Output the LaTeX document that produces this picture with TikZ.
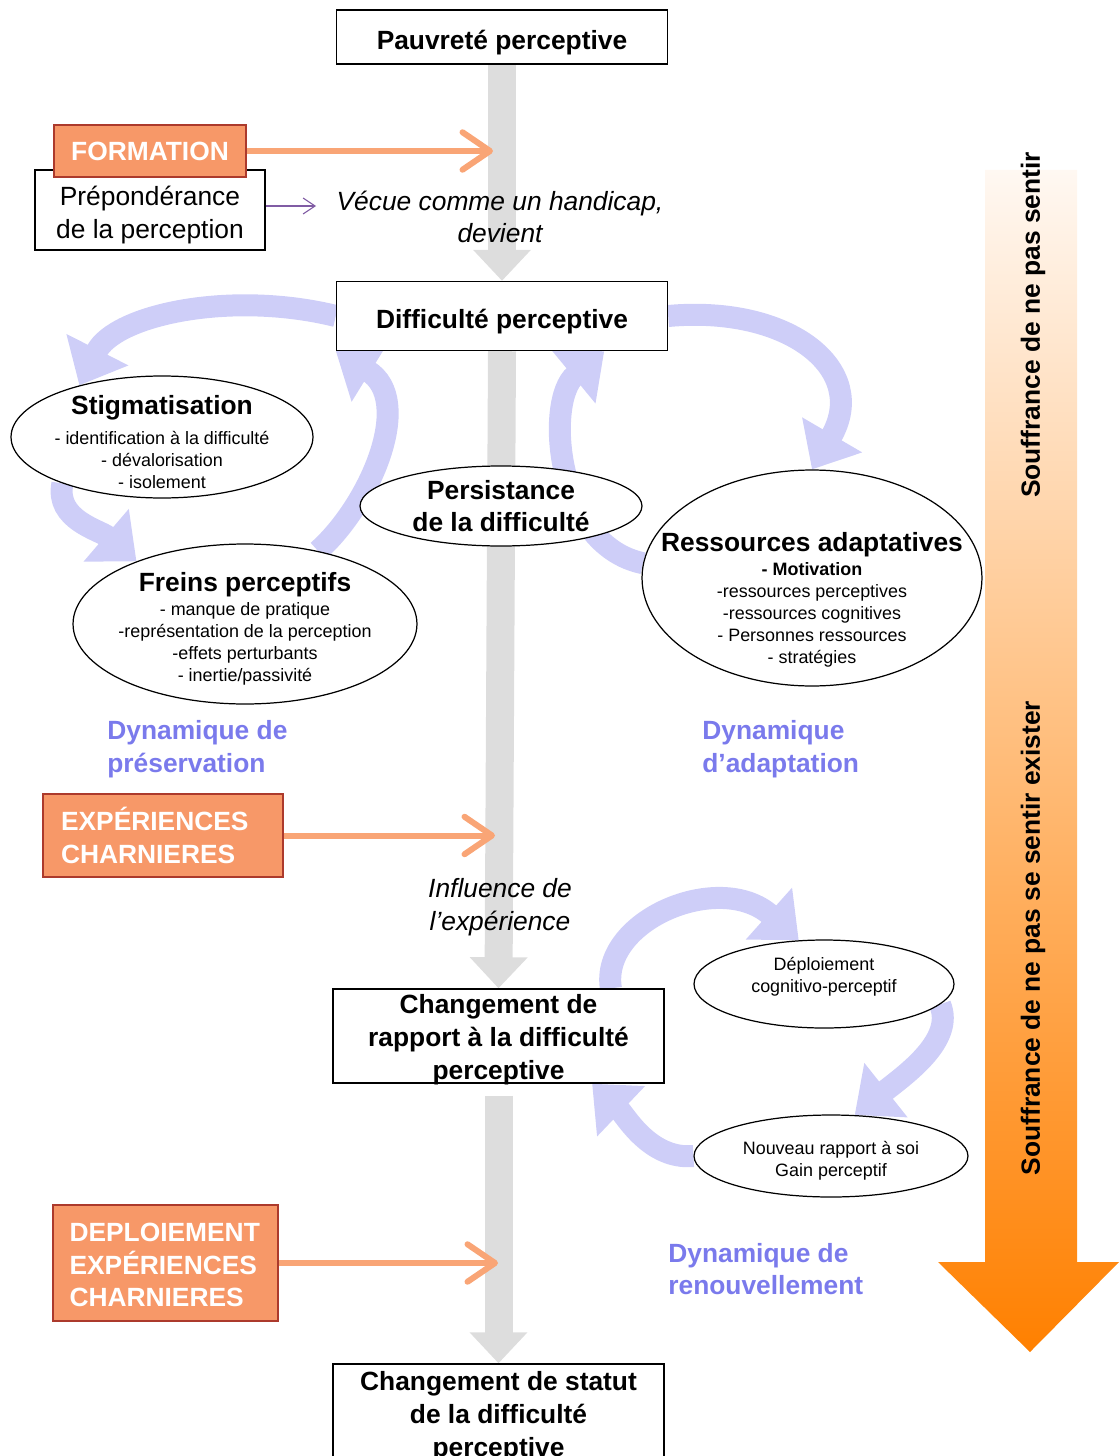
\documentclass[tikz,border=0pt]{standalone}
\usepackage{fontspec}
\setmainfont{Liberation Sans}
\usetikzlibrary{arrows.meta,shapes.geometric,backgrounds,positioning}

\definecolor{flowgray}{RGB}{221,221,221}
\definecolor{loopblue}{RGB}{206,206,248}
\definecolor{dynblue}{RGB}{122,122,236}
\definecolor{boxorange}{RGB}{247,152,104}
\definecolor{boxred}{RGB}{172,58,44}
\definecolor{arrorange}{RGB}{249,165,118}
\definecolor{linkpurple}{RGB}{128,92,164}
\definecolor{souftop}{RGB}{255,248,242}
\definecolor{soufbot}{RGB}{255,128,0}

\newcommand{\bigf}{\fontsize{15}{18.6}\selectfont}
\newcommand{\smf}{\fontsize{10.2}{12.5}\selectfont}

\begin{document}
\begin{tikzpicture}[x=0.02cm,y=-0.02cm,
  box/.style={draw,fill=white,line width=0.8pt,font=\bigf\bfseries,align=center,minimum width=6.62cm,inner sep=0pt},
  oneline/.style={text height=14.2pt,text depth=0pt},
  ovalbox/.style={ellipse,draw,fill=white,line width=0.7pt,inner sep=-20pt,align=center,font=\smf},
  orangebox/.style={draw=boxred,fill=boxorange,line width=0.9pt,text=white,font=\bigf\bfseries,inner sep=0pt},
  flow/.style={draw=flowgray,line width=0.56cm,-{Triangle[width=1.12cm,length=0.62cm]}},
  loopar/.style={draw=loopblue,line width=0.44cm,-{Triangle[width=1.34cm,length=0.8cm]}},
  push/.style={draw=arrorange,line width=0.12cm,-{Straight Barb[length=0.55cm,width=0.75cm,round]}},
  link/.style={draw=linkpurple,line width=0.6pt,-{Straight Barb[length=0.24cm,width=0.32cm]}},
  dyn/.style={text=dynblue,font=\bigf\bfseries,align=left,anchor=west,inner sep=0pt},
  remark/.style={font=\bigf\itshape,align=center,inner sep=0pt},
  ]

\useasboundingbox (0,0) rectangle (1119,1456);
\clip (0,0) rectangle (1119,1456);

% souffrance arrow on the right
\shade[top color=souftop,bottom color=soufbot] (985,170) -- (1077,170) -- (1077,1262) -- (1119,1262)
  -- (1030,1352) -- (938,1262) -- (985,1262) -- cycle;
\node[rotate=90,font=\bigf\bfseries] (souf1) at (1033,325) {Souffrance de ne pas sentir};
\node[rotate=90,font=\bigf\bfseries] (souf2) at (1033,938) {Souffrance de ne pas se sentir exister};

% main axis
\node[box,oneline,minimum height=1.08cm] (pauv) at (502,37) {Pauvreté perceptive};
\node[box,oneline,minimum height=1.38cm] (diff) at (502,316) {Difficulté perceptive};
\node[box,text depth=0pt,minimum height=1.88cm] (chrap) at (498.5,1036) {\rule{0pt}{12pt}Changement de\\rapport à la difficulté\\perceptive};
\node[box,minimum height=1.96cm] (cstat) at (498.5,1413) {\rule{0pt}{15pt}Changement de statut\\de la difficulté\\perceptive};

\node[remark] (vecue) at (500,217) {Vécue comme un handicap,\\devient};
\node[remark] (influ) at (500,907) {Influence de\\l’expérience};

% left column
\node[draw,fill=white,line width=0.8pt,font=\fontsize{15}{18.8}\selectfont,align=center,minimum width=4.6cm,minimum height=1.6cm,inner sep=0pt] (prep) at (150,210) {\rule{0pt}{17pt}Prépondérance\\de la perception};
\node[orangebox,minimum width=3.84cm,minimum height=1.04cm] (form) at (150,151) {FORMATION};
\node[orangebox,align=left,minimum width=4.8cm,minimum height=1.66cm,text width=4.08cm] (exper) at (163,835.5) {EXPÉRIENCES\\CHARNIERES};
\node[orangebox,align=left,minimum width=4.5cm,minimum height=2.32cm,text width=3.84cm] (deplexp) at (165.5,1263) {\rule{0pt}{13pt}DEPLOIEMENT\\EXPÉRIENCES\\CHARNIERES};

% ellipses
\node[ovalbox,minimum width=6.04cm,minimum height=2.44cm] (stig) at (162,437)
  {{\rule{0pt}{16.7pt}\bigf\bfseries Stigmatisation}\\[5pt]- identification à la difficulté\\- dévalorisation\\- isolement};
\node[ovalbox,font=\bigf\bfseries,minimum width=5.64cm,minimum height=1.6cm] (pers) at (501,506)
  {Persistance\\de la difficulté};
\node[ovalbox,minimum width=6.88cm,minimum height=3.2cm] (frein) at (245,624)
  {{\rule{0pt}{16.7pt}\bigf\bfseries Freins perceptifs}\\[1.1pt]- manque de pratique\\-représentation de la perception\\-effets perturbants\\- inertie/passivité};
\node[ovalbox,minimum width=6.8cm,minimum height=4.32cm] (ress) at (812,578)
  {{\rule{0pt}{35.5pt}\bigf\bfseries Ressources adaptatives}\\[1.6pt]{\bfseries - Motivation}\\-ressources perceptives\\-ressources cognitives\\- Personnes ressources\\- stratégies};
\node[ovalbox,minimum width=5.2cm,minimum height=1.76cm] (deplo) at (824,984)
  {Déploiement\\cognitivo-perceptif\rule[-10pt]{0pt}{0pt}};
\node[ovalbox,minimum width=5.48cm,minimum height=1.64cm] (nouv) at (831,1156)
  {\rule{0pt}{13pt}Nouveau rapport à soi\\Gain perceptif};

\node[dyn] (dynpres) at (107,749) {Dynamique de\\préservation};
\node[dyn] (dynadap) at (702,749) {Dynamique\\d’adaptation};
\node[dyn] (dynren) at (668,1269) {Dynamique de\\renouvellement};

% arrows into the axis
\coordinate (formtip) at (493,148);
\coordinate (expertip) at (495,836);
\coordinate (deplotip) at (498,1267);
\coordinate (linktip) at (316,206);
\draw[push] (form.east) -- (form.east -| formtip);
\draw[push] (exper.east) -- (exper.east -| expertip);
\draw[push] (deplexp.east) -- (deplexp.east -| deplotip);
\draw[link] (linktip -| prep.east) -- (linktip);

\begin{scope}[on background layer]
  \draw[flow] (pauv.south) -- (diff.north);
  \draw[flow] (diff.south) -- (chrap.north);
  \draw[flow,shorten <=0.24cm] (chrap.south) -- (cstat.north);
  % dynamique de preservation
  \draw[loopar] (diff.west) .. controls (230,290) and (115,315) .. (stig.148);
  \draw[loopar] (stig.205) .. controls (55,520) and (100,530) .. (frein.150);
  \draw[loopar] (frein.45) .. controls (370,505) and (415,400) .. (diff.south west);
  % dynamique d'adaptation
  \draw[loopar] (ress.175) .. controls (555,545) and (545,400) .. (diff.-19.4);
  \draw[loopar] (diff.east) .. controls (790,305) and (870,370) .. (ress.north);
  % dynamique de renouvellement
  \draw[loopar] (chrap.23) .. controls (600,920) and (720,870) .. (deplo.120);
  \draw[loopar] (deplo.-10) .. controls (955,1040) and (905,1075) .. (nouv.60);
  \draw[loopar] (nouv.180) .. controls (650,1160) and (625,1115) .. (chrap.-27);
\end{scope}
\end{tikzpicture}
\end{document}
